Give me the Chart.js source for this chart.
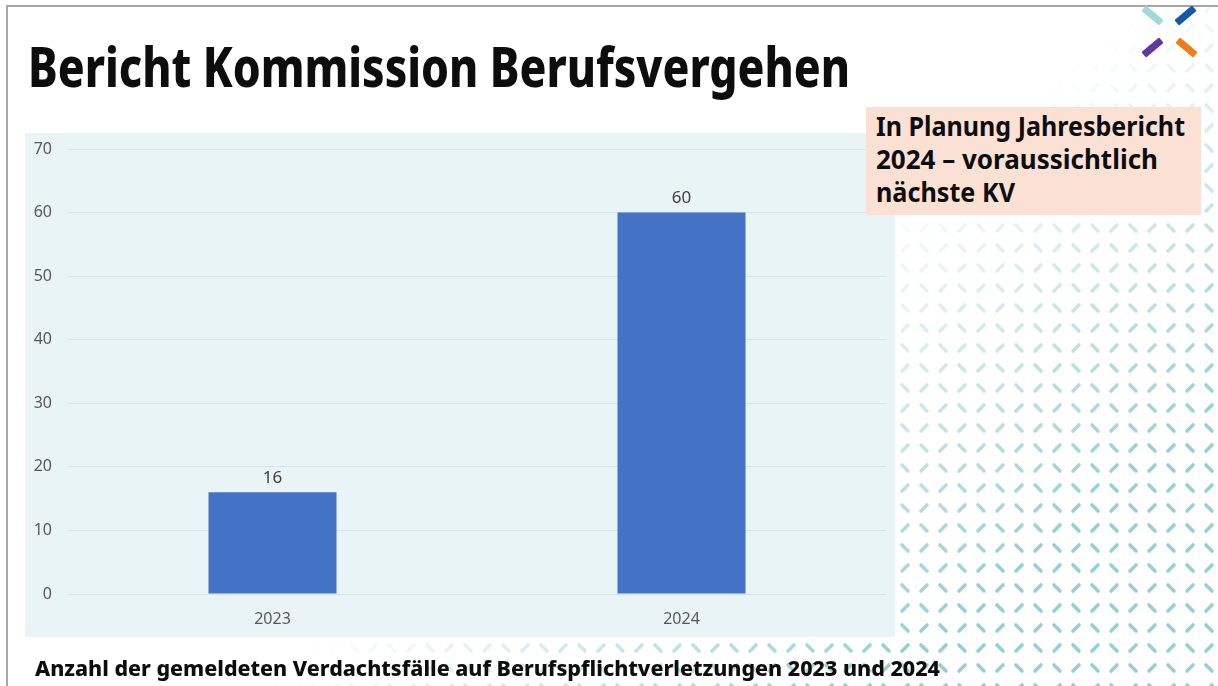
<!DOCTYPE html>
<html><head><meta charset="utf-8">
<script src="https://cdn.jsdelivr.net/npm/chart.js@4"></script>
<style>
html,body{margin:0;padding:0;background:#fff;}
body{width:1218px;height:686px;position:relative;overflow:hidden;font-family:"Noto Sans",sans-serif;}
#bgpat{position:absolute;left:0;top:0;}
.bl{position:absolute;background:#a6a6a6;}
.fit{position:absolute;white-space:nowrap;font-weight:800;color:#0d0d0d;transform-origin:0 0;}
#title{left:28px;top:30px;font-size:56px;line-height:70px;}
#box{position:absolute;left:866px;top:107px;width:335px;height:108px;background:#fbe1d3;}
.note{left:876px;font-size:26px;line-height:33px;font-weight:700;}
#caption{left:35px;top:653px;font-size:22px;line-height:28px;}
#panel{position:absolute;left:25px;top:133px;width:870px;height:504px;background:#e9f4f7;}
#c{display:block;}
.logo{position:absolute;width:23px;height:7px;border-radius:1px;}
</style></head>
<body>
<canvas id="bgpat" width="1218" height="686"></canvas>
<div class="bl" style="left:6px;top:5px;width:1212px;height:2px"></div>
<div class="bl" style="left:6px;top:5px;width:2px;height:681px"></div>
<div class="logo" style="left:1141px;top:12px;background:#a3d8db;transform:rotate(40deg)"></div>
<div class="logo" style="left:1174px;top:12px;background:#1558a8;transform:rotate(-40deg)"></div>
<div class="logo" style="left:1141px;top:44px;background:#5e3a9e;transform:rotate(-40deg)"></div>
<div class="logo" style="left:1175px;top:44px;background:#f07d1c;transform:rotate(40deg)"></div>
<div id="title" class="fit" data-w="822">Bericht Kommission Berufsvergehen</div>
<div id="panel"><canvas id="c" width="870" height="504"></canvas></div>
<div id="box"></div>
<div class="fit note" style="top:110px" data-w="309">In Planung Jahresbericht</div>
<div class="fit note" style="top:143px" data-w="282">2024 – voraussichtlich</div>
<div class="fit note" style="top:176px" data-w="139">nächste KV</div>
<div id="caption" class="fit" data-w="905">Anzahl der gemeldeten Verdachtsfälle auf Berufspflichtverletzungen 2023 und 2024</div>
<script>
const categories = ["2023", "2024"];
const values = [16, 60];
const yTicks = [0, 10, 20, 30, 40, 50, 60, 70];

// fit text widths
document.querySelectorAll('.fit').forEach(el => {
  const w = el.getBoundingClientRect().width;
  const target = +el.dataset.w;
  el.style.transform = 'scaleX(' + (target / w) + ')';
});

// background decorative pattern
(function(){
  const cv = document.getElementById('bgpat');
  const ctx = cv.getContext('2d');
  ctx.lineCap = 'round';
  ctx.lineWidth = 3.6;
  const sx = 19, sy = 20;
  for (let r = 0; r * sy < 700; r++) {
    for (let c = 0; c * sx < 1230; c++) {
      const x = 12 + c * sx, y = 8 + r * sy;
      let a = (x + 1.3 * y - 1150) / 600;
      if (a <= 0) continue;
      a = Math.min(1, a);
      ctx.strokeStyle = 'rgba(140,202,208,' + (a * 0.9) + ')';
      const dir = (r + c) % 2 === 0 ? 1 : -1;
      ctx.beginPath();
      ctx.moveTo(x - 3, y - 3 * dir);
      ctx.lineTo(x + 3, y + 3 * dir);
      ctx.stroke();
    }
  }
})();

const labelPlugin = {
  id: 'vals',
  afterDatasetsDraw(chart) {
    const ctx = chart.ctx;
    const meta = chart.getDatasetMeta(0);
    ctx.save();
    ctx.font = '17px "Noto Sans"';
    ctx.fillStyle = '#404040';
    ctx.textAlign = 'center';
    ctx.textBaseline = 'bottom';
    meta.data.forEach((bar, i) => {
      ctx.fillText(String(values[i]), bar.x, bar.y - 6);
    });
    ctx.restore();
  }
};

new Chart(document.getElementById('c'), {
  type: 'bar',
  data: {
    labels: categories,
    datasets: [{ data: values, backgroundColor: '#4472c4', categoryPercentage: 1, barPercentage: 0.313 }]
  },
  options: {
    responsive: false,
    animation: false,
    maintainAspectRatio: false,
    layout: { padding: { top: 16, right: 9, left: 0, bottom: 0 } },
    plugins: { legend: { display: false }, tooltip: { enabled: false } },
    scales: {
      x: {
        grid: { display: false, drawTicks: false },
        border: { display: false },
        ticks: { color: '#595959', font: { family: 'Noto Sans', size: 16 }, padding: 16 },
        afterFit: s => { s.height = 43; }
      },
      y: {
        min: 0, max: 70,
        afterBuildTicks: s => { s.ticks = yTicks.map(v => ({ value: v })); },
        grid: { color: '#d6e3e7', drawTicks: false, lineWidth: 1 },
        border: { display: false },
        ticks: { color: '#595959', font: { family: 'Noto Sans', size: 16 }, padding: 16 },
        afterFit: s => { s.width = 43; s.paddingTop = 0; s.paddingBottom = 0; }
      }
    }
  },
  plugins: [labelPlugin]
});
</script>
</body></html>
